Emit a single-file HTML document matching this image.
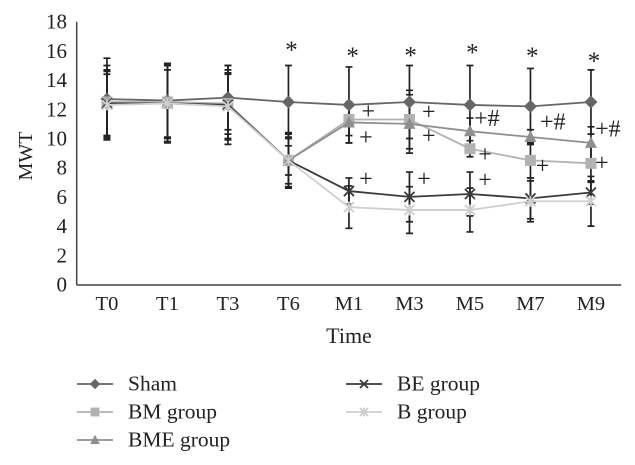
<!DOCTYPE html>
<html lang="en">
<head>
<meta charset="utf-8">
<title>MWT chart</title>
<style>
html,body{margin:0;padding:0;background:#fff;width:635px;height:465px;overflow:hidden}
svg{display:block;font-family:"Liberation Serif",serif;fill:#222}
</style>
</head>
<body>
<svg id="chart" width="635" height="465" viewBox="0 0 635 465" xmlns="http://www.w3.org/2000/svg"></svg>
<script>
const categories = ['T0','T1','T3','T6','M1','M3','M5','M7','M9'];
const yTicks = [0,2,4,6,8,10,12,14,16,18];

const shamValues = [12.7,12.6,12.8,12.5,12.3,12.5,12.3,12.2,12.5];
const bmValues   = [12.5,12.5,12.4,8.5,11.3,11.3,9.3,8.5,8.3];
const bmeValues  = [12.4,12.4,12.3,8.5,11.1,11.0,10.5,10.1,9.7];
const beValues   = [12.4,12.4,12.3,8.5,6.4,6.0,6.2,5.9,6.3];
const bValues    = [12.3,12.4,12.2,8.5,5.3,5.1,5.1,5.7,5.7];

const shamErrors = [2.8,2.55,2.2,2.5,2.6,2.5,2.7,2.6,2.2];
const bmErrors   = [2.5,2.5,2.1,1.9,1.1,2.0,0.55,1.2,1.3];
const bmeErrors  = [2.2,2.3,2.4,1.8,1.4,2.0,0.9,0.5,1.1];
const beErrors   = [2.3,2.6,2.7,1.6,0.9,1.7,1.5,1.4,0.8];
const bErrors    = [2.1,2.7,2.2,1.0,1.45,1.6,1.5,1.4,1.7];

const legendNames = ['Sham','BM group','BME group','BE group','B group'];

// significance labels: category position (fractional index), value level, text
const sigPositions = [3.05,4.06,5.02,6.04,7.03,8.05, 4.32,4.28,5.32,5.32,6.28,7.37,8.28, 6.25,7.2,8.18, 4.28,5.24,6.25];
const sigLevels    = [16.05,15.65,15.7,15.9,15.65,15.3, 11.9,10.1,11.85,10.2,11.4,11.15,10.7, 8.95,8.15,8.35, 7.25,7.25,7.2];
const sigTexts     = ['*','*','*','*','*','*','+','+','+','+','+#','+#','+#','+','+','+','+','+','+'];

const NS = 'http://www.w3.org/2000/svg';
const svg = document.getElementById('chart');
const plotLeft = 76.7, bandWidth = 60.5, yZero = 284.5, unit = 14.6;
const xScale = i => plotLeft + bandWidth * (i + 0.5);
const yScale = v => yZero - v * unit;

function mk(tag, attrs, parent, text) {
  const el = document.createElementNS(NS, tag);
  for (const k in attrs) el.setAttribute(k, attrs[k]);
  if (text !== undefined) el.textContent = text;
  (parent || svg).appendChild(el);
  return el;
}

function drawMarker(kind, cx, cy, color, g, r) {
  const k = r || 1;
  if (kind === 'diamond') {
    mk('polygon', {points:[cx,cy-6.5*k,cx+6.5*k,cy,cx,cy+6.5*k,cx-6.5*k,cy].join(' '), fill:color}, g);
  } else if (kind === 'square') {
    mk('rect', {x:cx-5.5*k, y:cy-5.5*k, width:11*k, height:11*k, fill:color}, g);
  } else if (kind === 'triangle') {
    mk('polygon', {points:[cx,cy-6.5*k,cx+6*k,cy+5*k,cx-6*k,cy+5*k].join(' '), fill:color}, g);
  } else if (kind === 'cross') {
    mk('path', {d:`M${cx-5*k} ${cy-5*k}L${cx+5*k} ${cy+5*k}M${cx+5*k} ${cy-5*k}L${cx-5*k} ${cy+5*k}`, stroke:color, 'stroke-width':1.8, fill:'none'}, g);
  } else {
    mk('path', {d:`M${cx-5*k} ${cy-5*k}L${cx+5*k} ${cy+5*k}M${cx+5*k} ${cy-5*k}L${cx-5*k} ${cy+5*k}M${cx} ${cy-5.5*k}L${cx} ${cy+5.5*k}`, stroke:color, 'stroke-width':1.8, fill:'none'}, g);
  }
}

const seriesList = [
  {key:'sham', values:shamValues, errors:shamErrors, color:'#666666', marker:'diamond'},
  {key:'bm', values:bmValues, errors:bmErrors, color:'#b2b2b2', marker:'square'},
  {key:'bme', values:bmeValues, errors:bmeErrors, color:'#8f8f8f', marker:'triangle'},
  {key:'be', values:beValues, errors:beErrors, color:'#3a3a3a', marker:'cross'},
  {key:'b', values:bValues, errors:bErrors, color:'#cfcfcf', marker:'star'}
];

// error bars beneath the lines
seriesList.forEach(s => {
  const g = mk('g', {stroke:'#222', 'stroke-width':1.7, fill:'none'});
  
  
  s.values.forEach((v, i) => {
    const x = xScale(i), hi = yScale(v + s.errors[i]), lo = yScale(v - s.errors[i]);
    mk('path', {d:`M${x} ${hi}L${x} ${lo}M${x-3.5} ${hi}L${x+3.5} ${hi}M${x-3.5} ${lo}L${x+3.5} ${lo}`}, g);
  });
});

// series lines and markers
seriesList.forEach(s => {
  const g = mk('g', {});
  
  
  mk('polyline', {points:s.values.map((v, i) => xScale(i) + ',' + yScale(v)).join(' '), fill:'none', stroke:s.color, 'stroke-width':1.8}, g);
  s.values.forEach((v, i) => drawMarker(s.marker, xScale(i), yScale(v), s.color, g));
});

// axes
const yAxis = mk('line', {x1:plotLeft, x2:plotLeft, y1:yScale(18), y2:yZero + 0.5, stroke:'#444', 'stroke-width':1.5});


const xAxis = mk('line', {x1:plotLeft, x2:plotLeft + bandWidth * categories.length, y1:yZero + 0.5, y2:yZero + 0.5, stroke:'#444', 'stroke-width':1.5});



yTicks.forEach(t => {
  const el = mk('text', {x:67, y:yScale(t) + 7, 'text-anchor':'end', 'font-size':21}, svg, String(t));
  
  
});
categories.forEach((c, i) => {
  const el = mk('text', {x:xScale(i), y:310, 'text-anchor':'middle', 'font-size':20.5}, svg, c);
  
  
});

const yTitle = mk('text', {transform:'translate(32 156) rotate(-90)', 'text-anchor':'middle', 'font-size':20}, svg, 'MWT');


const xTitle = mk('text', {x:349, y:343, 'text-anchor':'middle', 'font-size':22}, svg, 'Time');



// significance annotations
sigTexts.forEach((t, i) => {
  const isStar = t === '*';
  const el = mk('text', {x:xScale(sigPositions[i]), y:yScale(sigLevels[i]) + 8, 'text-anchor':'middle', 'font-size':isStar ? 25 : 24}, svg, t);
  
  
});

// legend
const legendSlots = [[77,384],[77,412],[77,440],[346,384],[346,412]];
seriesList.forEach((s, i) => {
  const g = mk('g', {});
  
  
  const lx = legendSlots[i][0], ly = legendSlots[i][1];
  mk('line', {x1:lx, x2:lx + 36, y1:ly, y2:ly, stroke:s.color, 'stroke-width':1.8}, g);
  drawMarker(s.marker, lx + 18, ly, s.color, g, 0.8);
  mk('text', {x:lx + 51, y:ly + 6.5, 'font-size':21.5}, g, legendNames[i]);
});
</script>
</body>
</html>
